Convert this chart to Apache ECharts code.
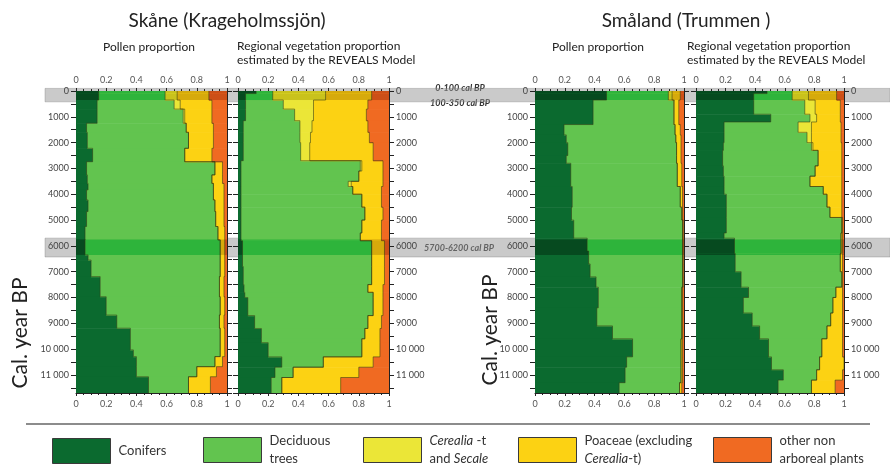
<!DOCTYPE html>
<html><head><meta charset="utf-8">
<script src="https://cdn.jsdelivr.net/npm/echarts@6/dist/echarts.min.js"></script>
<style>html,body{margin:0;padding:0;background:#fff}#c{width:890px;height:465px}</style>
</head><body><div id="c"></div>
<script>
// ---------- DATA (proportions per sample interval; years are interval boundaries, cal BP) ----------
const taxa = ['Conifers', 'Deciduous trees', 'Cerealia -t and Secale', 'Poaceae (excluding Cerealia-t)', 'other non arboreal plants'];

// Skåne (Krageholmssjön) – pollen proportion
const skPollenYears = [0,100,350,700,1250,1600,2220,2740,3250,3580,3830,4220,4670,5250,5770,6350,6550,7190,7970,8680,9190,10030,10290,10680,11070,11700];
const skPollenConifers  = [.15,.15,.14,.14,.07,.075,.11,.07,.075,.08,.07,.08,.07,.06,.06,.08,.10,.16,.20,.27,.36,.38,.40,.40,.48];
const skPollenDeciduous = [.44,.44,.51,.57,.66,.67,.61,.85,.825,.83,.84,.84,.855,.88,.895,.875,.855,.79,.755,.68,.595,.575,.52,.40,.265];
const skPollenCerealia  = [.08,.08,.04,.01,0,0,0,0,0,0,0,0,0,0,0,0,0,0,0,0,0,0,0,0,0];
const skPollenPoaceae   = [.21,.21,.21,.18,.18,.165,.18,.05,.07,.07,.07,.06,.055,.045,.03,.03,.03,.03,.03,.03,.03,.03,.05,.13,.145];
const skPollenOther     = [.12,.12,.10,.10,.09,.09,.10,.03,.03,.02,.02,.02,.02,.015,.015,.015,.015,.02,.015,.02,.015,.015,.03,.07,.11];

// Skåne – REVEALS regional vegetation
const skRevealsYears = [0,100,350,700,1150,1600,2000,2700,3100,3500,3700,4000,4500,5000,5500,5800,6800,7500,7800,8000,8700,9200,9600,9750,10300,10700,11100,11700];
const skRevealsConifers  = [.12,.05,.05,.05,.035,.035,.035,.02,.02,.02,.02,.02,.02,.02,.02,.03,.035,.04,.045,.065,.11,.155,.155,.20,.29,.245,.22];
const skRevealsDeciduous = [.11,.18,.25,.325,.375,.375,.38,.79,.78,.71,.74,.80,.82,.80,.79,.855,.85,.82,.85,.83,.75,.685,.665,.62,.275,.12,.07];
const skRevealsCerealia  = [.35,.35,.20,.125,.08,.07,.06,.01,0,.02,0,0,0,0,0,0,0,0,0,0,0,0,0,0,0,0,0];
const skRevealsPoaceae   = [.305,.305,.36,.35,.37,.39,.42,.14,.16,.21,.19,.13,.12,.13,.14,.085,.085,.10,.065,.065,.09,.10,.12,.12,.33,.435,.39];
const skRevealsOther     = [.115,.115,.14,.15,.14,.13,.105,.04,.04,.04,.05,.05,.04,.05,.05,.03,.03,.04,.04,.04,.05,.06,.06,.06,.105,.20,.32];

// Småland (Trummen) – pollen proportion
const smPollenYears = [0,100,350,1300,1700,2000,2500,2800,3700,4500,5000,5700,6200,6700,7200,7600,8400,9100,9600,10300,10700,11300,11700];
const smPollenConifers  = [.48,.48,.39,.195,.21,.22,.21,.24,.25,.245,.26,.35,.36,.37,.41,.425,.415,.52,.655,.615,.605,.565];
const smPollenDeciduous = [.415,.415,.54,.745,.735,.73,.74,.715,.725,.74,.73,.64,.63,.62,.58,.56,.57,.465,.325,.365,.375,.405];
const smPollenCerealia  = [.025,.025,.005,0,0,0,0,0,0,0,0,0,0,0,0,0,0,0,0,0,0,0];
const smPollenPoaceae   = [.055,.055,.03,.035,.035,.03,.03,.03,.015,.005,.005,.005,.005,.005,.005,.005,.005,.005,.01,.01,.01,.015];
const smPollenOther     = [.025,.025,.035,.025,.02,.02,.02,.015,.01,.01,.005,.005,.005,.005,.005,.01,.01,.01,.01,.01,.01,.015];

// Småland – REVEALS regional vegetation
const smRevealsYears = [0,100,350,900,1200,1600,2000,2300,2900,3300,3700,4000,4500,4900,5500,5700,6300,7000,7600,8000,8600,9100,9600,10300,10800,11200,11700];
const smRevealsConifers  = [.48,.39,.39,.505,.19,.19,.185,.18,.185,.19,.19,.205,.205,.205,.19,.26,.265,.305,.355,.32,.38,.43,.49,.51,.59,.555];
const smRevealsDeciduous = [.17,.26,.345,.265,.50,.56,.595,.645,.62,.58,.67,.68,.70,.78,.79,.72,.71,.68,.59,.605,.53,.455,.36,.325,.225,.225];
const smRevealsCerealia  = [.11,.11,.07,.045,.09,.03,.01,0,0,0,0,0,0,0,0,0,0,0,0,0,0,0,0,0,0,0];
const smRevealsPoaceae   = [.19,.19,.17,.16,.20,.20,.195,.16,.18,.215,.125,.10,.08,.005,.01,.01,.015,.005,.045,.065,.08,.105,.14,.165,.175,.16];
const smRevealsOther     = [.05,.05,.025,.025,.02,.02,.015,.015,.015,.015,.015,.015,.015,.01,.01,.01,.01,.01,.01,.01,.01,.01,.01,.01,.01,.06];

// highlighted periods (cal BP)
const bandYearsInside  = [[0,350],[5750,6350]];
const bandYearsOutside = [[-100,420],[5700,6430]];
const bandLabels = ['0-100 cal BP','100-350 cal BP','5700-6200 cal BP'];

const xTicks = [0,0.2,0.4,0.6,0.8,1];
const yearMax = 11700;

// ---------- STYLE ----------
const baseColors = ['#0b6a2f','#62c44f','#ebe637','#fcd213','#f06a22'];
const bandColors = ['#064a1f','#2eb43b','#c9c21c','#d6aa0c','#cc4f17'];
const FONT = 'Lato, "Open Sans", sans-serif';

const panels = [
  {years: skPollenYears,  vals: [skPollenConifers, skPollenDeciduous, skPollenCerealia, skPollenPoaceae, skPollenOther],   left: 76,  width: 151, labelSide: 'left'},
  {years: skRevealsYears, vals: [skRevealsConifers, skRevealsDeciduous, skRevealsCerealia, skRevealsPoaceae, skRevealsOther], left: 238, width: 151, labelSide: 'right'},
  {years: smPollenYears,  vals: [smPollenConifers, smPollenDeciduous, smPollenCerealia, smPollenPoaceae, smPollenOther],   left: 535, width: 149, labelSide: 'left'},
  {years: smRevealsYears, vals: [smRevealsConifers, smRevealsDeciduous, smRevealsCerealia, smRevealsPoaceae, smRevealsOther], left: 696, width: 148, labelSide: 'right'}
];
const TOP = 91, HEIGHT = 302;

const grid = panels.map(p => ({left: p.left, width: p.width, top: TOP, height: HEIGHT, outerBoundsMode: 'none'}));
grid.push({left: 45, right: 0, top: TOP, height: HEIGHT, outerBoundsMode: 'none'});

const xAxis = [], yAxis = [];
function fmtX(v){ return v === 0 ? '0' : (v === 1 ? '1' : v.toFixed(1)); }
function fmtY(v){ if (v % 1000) return ''; return v >= 10000 ? String(v).replace(/(\d+)(\d{3})$/, '$1 $2') : String(v); }
panels.forEach((p, gi) => {
  ['top','bottom'].forEach(pos => xAxis.push({
    type: 'value', gridIndex: gi, position: pos, min: xTicks[0], max: xTicks[xTicks.length-1], interval: 0.2,
    axisLine: {show: true, onZero: false, lineStyle: {color: '#222', width: 1}},
    axisTick: {show: true, length: 3, lineStyle: {color: '#222', width: 1}},
    minorTick: {show: true, splitNumber: 4, length: 2, lineStyle: {color: '#222', width: 1}},
    splitLine: {show: false},
    axisLabel: {show: true, fontSize: 9, color: '#555', fontFamily: FONT, margin: pos === 'top' ? 6 : 7, formatter: fmtX}
  }));
  ['left','right'].forEach(pos => yAxis.push({
    type: 'value', gridIndex: gi, position: pos, inverse: true, min: 0, max: yearMax, interval: 500,
    axisLine: {show: true, onZero: false, lineStyle: {color: '#222', width: 1}},
    axisTick: {show: true, length: 5, lineStyle: {color: '#222', width: 1}},
    splitLine: {show: false},
    axisLabel: {show: pos === p.labelSide, showMaxLabel: false, fontSize: 9, color: '#444', fontFamily: FONT, margin: 7, formatter: fmtY}
  }));
});
xAxis.push({type: 'value', gridIndex: 4, min: 0, max: 1, show: false});
yAxis.push({type: 'value', gridIndex: 4, min: 0, max: yearMax, inverse: true, show: false});

function buildItems(p, t) {
  const n = p.years.length - 1, items = [];
  const cum = (k, i) => { let s = 0; for (let j = 0; j < k; j++) s += p.vals[j][i]; return s; };
  for (let i = 0; i < n; i++) {
    const l = cum(t, i), r = l + p.vals[t][i];
    const nr = i < n - 1 ? cum(t, i + 1) + p.vals[t][i + 1] : r;
    items.push([p.years[i], p.years[i + 1], l, r, nr]);
  }
  return items;
}

function makeRender(t) {
  return function (params, api) {
    const y0 = api.value(0), y1 = api.value(1), l = api.value(2), r = api.value(3), nr = api.value(4);
    const a = api.coord([l, y0]), b = api.coord([r, y1]);
    const w = b[0] - a[0];
    const children = [];
    if (w > 0.01) {
      children.push({type: 'rect', z2: 0, shape: {x: a[0], y: a[1], width: w + 0.5, height: b[1] - a[1] + 0.6}, style: {fill: baseColors[t]}});
      bandYearsInside.forEach(bd => {
        const s = Math.max(y0, bd[0]), e = Math.min(y1, bd[1]);
        if (s < e) {
          const c = api.coord([l, s]), d = api.coord([r, e]);
          children.push({type: 'rect', z2: 1, shape: {x: c[0], y: c[1], width: d[0] - c[0] + 0.5, height: d[1] - c[1]}, style: {fill: bandColors[t]}});
        }
      });
    }
    if (t < 4) {
      const p1 = api.coord([r, y0]), p2 = api.coord([r, y1]), p3 = api.coord([nr, y1]);
      children.push({type: 'polyline', z2: 10, shape: {points: [p1, p2, p3]}, style: {stroke: 'rgba(50,60,20,0.7)', lineWidth: 0.8, fill: null}});
    }
    return {type: 'group', children};
  };
}

const series = [];
series.push({
  type: 'custom', name: 'bands', xAxisIndex: 8, yAxisIndex: 8, z: 0, silent: true, clip: false,
  data: bandYearsOutside,
  renderItem: (params, api) => {
    const a = api.coord([0, api.value(0)]), b = api.coord([1, api.value(1)]);
    return {type: 'rect', shape: {x: a[0], y: a[1], width: b[0] - a[0], height: b[1] - a[1]},
      style: {fill: 'rgba(150,150,150,0.5)', stroke: 'rgba(120,120,120,0.35)', lineWidth: 1}};
  }
});
panels.forEach((p, gi) => {
  for (let t = 0; t < 5; t++) {
    series.push({
      type: 'custom', name: taxa[t], xAxisIndex: gi * 2, yAxisIndex: gi * 2, z: 2, clip: true, silent: true,
      itemStyle: {color: baseColors[t]},
      encode: {x: [2, 3], y: [0, 1]},
      data: buildItems(p, t),
      renderItem: makeRender(t)
    });
  }
});

const legendText = {
  'Conifers': 'Conifers',
  'Deciduous trees': 'Deciduous\ntrees',
  'Cerealia -t and Secale': '{i|Cerealia} -t\nand {i|Secale}',
  'Poaceae (excluding Cerealia-t)': 'Poaceae (excluding\n{i|Cerealia}-t)',
  'other non arboreal plants': 'other non\narboreal plants'
};
const legendLeft = [52, 203, 363, 518, 713];
const legendTop  = [438, 432, 432, 432, 432];
const legend = taxa.map((name, i) => ({
  data: [name], left: legendLeft[i], top: legendTop[i], icon: 'rect', itemWidth: 58, itemHeight: 25,
  padding: 0, selectedMode: false, itemStyle: {borderColor: '#3a3a3a', borderWidth: 1},
  formatter: nm => legendText[nm],
  textStyle: {fontSize: 13, lineHeight: 18, color: '#333', fontFamily: FONT, padding: [0, 0, 0, 3],
    rich: {i: {fontStyle: 'italic', fontSize: 13, lineHeight: 18, color: '#333', fontFamily: FONT}}}
}));

const txt = (x, y, text, o) => ({type: 'text', x, y, silent: true, style: Object.assign({text, fill: '#222', fontFamily: FONT, fontSize: 12, align: 'center', verticalAlign: 'middle'}, o || {})});
const graphic = [
  txt(227, 21, 'Skåne (Krageholmssjön)', {fontSize: 19}),
  txt(686, 21, 'Småland (Trummen )', {fontSize: 19}),
  txt(149, 47, 'Pollen proportion'),
  txt(598, 47, 'Pollen proportion'),
  txt(237, 53, 'Regional vegetation proportion\nestimated by the REVEALS Model', {align: 'left', lineHeight: 14}),
  txt(687, 53, 'Regional vegetation proportion\nestimated by the REVEALS Model', {align: 'left', lineHeight: 14}),
  Object.assign(txt(20, 333, 'Cal. year BP', {fontSize: 21}), {rotation: Math.PI / 2}),
  Object.assign(txt(490, 330, 'Cal. year BP', {fontSize: 21}), {rotation: Math.PI / 2}),
  txt(460, 88, bandLabels[0], {fontSize: 9, fontStyle: 'italic', fontWeight: 'bold', fill: '#333'}),
  txt(460, 103, bandLabels[1], {fontSize: 9, fontStyle: 'italic', fontWeight: 'bold', fill: '#333'}),
  txt(459, 248, bandLabels[2], {fontSize: 9, fontStyle: 'italic', fontWeight: 'bold', fill: '#333'}),
  {type: 'line', silent: true, shape: {x1: 26, y1: 424, x2: 870, y2: 424}, style: {stroke: '#8c8c8c', lineWidth: 2}}
];

const chart = echarts.init(document.getElementById('c'), null, {renderer: 'canvas'});
chart.setOption({animation: false, backgroundColor: '#fff', grid, xAxis, yAxis, series, legend, graphic});
</script>
</body></html>
